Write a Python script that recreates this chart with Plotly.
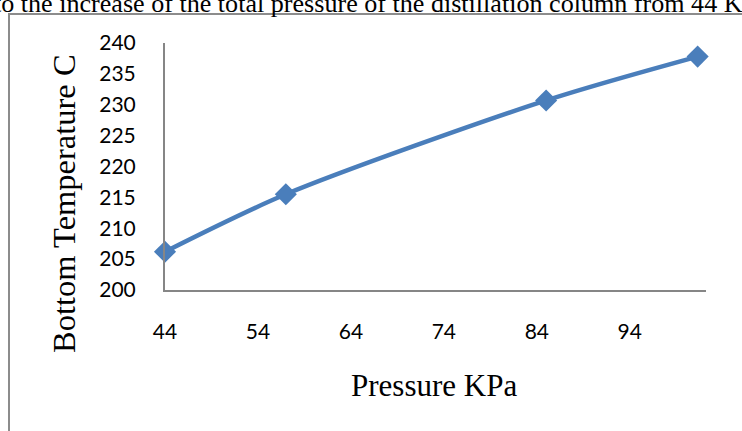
import plotly.graph_objects as go

# data
pressure_kpa = [44, 57, 85, 101.3]
bottom_temp_c = [206.2, 215.5, 230.7, 237.8]
x_ticks = [44, 54, 64, 74, 84, 94]
y_ticks = [200, 205, 210, 215, 220, 225, 230, 235, 240]

W, H = 742, 431
# plot area in pixels
L, R, T, B = 165, 706, 43, 290


def px(x):
    return (x - L) / (R - L)


def py(y):
    return (B - y) / (B - T)


line_blue = '#4A7EBB'
axis_grey = '#868686'
serif = 'Liberation Serif, Times New Roman, serif'
tick_font = dict(family='Lato, sans-serif', size=21, color='#000000')

fig = go.Figure()

fig.add_trace(go.Scatter(
    x=pressure_kpa,
    y=bottom_temp_c,
    mode='lines+markers',
    line=dict(color=line_blue, width=4.5, shape='spline', smoothing=0.8),
    marker=dict(symbol='diamond', size=17, color=line_blue),
    cliponaxis=False,
    showlegend=False
))

fig.update_layout(
    width=W,
    height=H,
    margin=dict(l=L, r=W - R, t=T, b=H - B, pad=0),
    paper_bgcolor='white',
    plot_bgcolor='white',
    xaxis=dict(
        range=[44, 102.2],
        tickvals=x_ticks,
        showgrid=False,
        zeroline=False,
        showline=True,
        linecolor=axis_grey,
        linewidth=2,
        ticks='',
        ticklabelstandoff=22,
        tickfont=tick_font
    ),
    yaxis=dict(
        range=[200, 240],
        tickvals=y_ticks,
        showgrid=False,
        zeroline=False,
        showline=True,
        linecolor=axis_grey,
        linewidth=2,
        ticks='',
        ticklabelstandoff=23,
        tickfont=tick_font
    ),
    shapes=[
        # outer chart border, left and top edges only visible
        dict(type='rect', xref='paper', yref='paper',
             x0=px(9), x1=px(900), y0=py(600), y1=py(14),
             line=dict(color='#8c8c8c', width=2), layer='below')
    ],
    annotations=[
        dict(text='Pressure KPa', xref='paper', yref='paper',
             x=px(434), y=py(385), showarrow=False,
             xanchor='center', yanchor='middle',
             font=dict(family=serif, size=31, color='#000000')),
        dict(text='Bottom Temperature C', xref='paper', yref='paper',
             x=px(64), y=py(204), showarrow=False, textangle=-90,
             xanchor='center', yanchor='middle',
             font=dict(family=serif, size=32.5, color='#000000')),
        # text of the page above, cut off by the crop
        dict(text='to the increase of the total pressure of the distillation column from 44 KPa',
             xref='paper', yref='paper',
             x=px(-8), y=py(3), showarrow=False,
             xanchor='left', yanchor='middle',
             font=dict(family=serif, size=26.1, color='#000000'))
    ]
)

# drop the default page margin so the figure sits at the window's corner
fig.write_html("out.html", config={'displayModeBar': False},
               post_script="document.body.style.margin='0';")
